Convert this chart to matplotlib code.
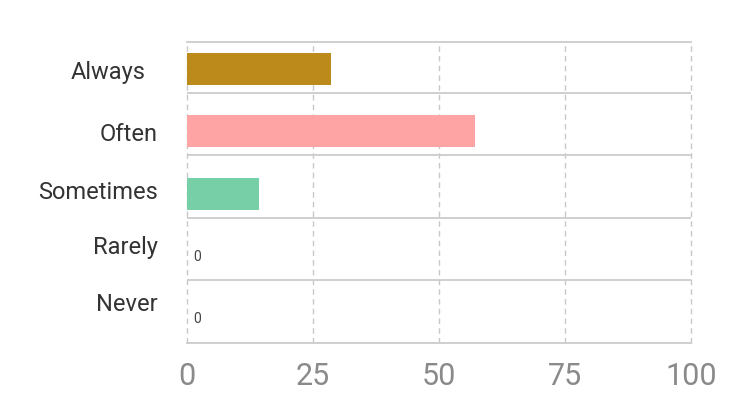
import matplotlib.pyplot as plt
import numpy as np

# data
categories = ["Always", "Often", "Sometimes", "Rarely", "Never"]
values = [28.57, 57.14, 14.29, 0, 0]
colors = ["#BC891B", "#FFA4A4", "#76CFA6", "#9AB8E0", "#C9A0DC"]
x_ticks = [0, 25, 50, 75, 100]

plt.rcParams['font.family'] = ['Roboto', 'DejaVu Sans']

fig = plt.figure(figsize=(7.56, 4.11), dpi=100)
ax = fig.add_axes([0.2474, 0.1655, 0.6667, 0.7324])

pos = np.arange(len(categories))
ax.barh(pos, values, height=0.51, color=colors, linewidth=0, zorder=3)

# zero labels for empty rows
for p, v in zip(pos, values):
    if v == 0:
        ax.text(1.3, p, "0", ha="left", va="center", fontsize=10, color="#444444")

ax.set_xlim(0, 100)
ax.set_ylim(4.38, -0.43)

# grid: dashed vertical, solid horizontal row separators
for x in x_ticks:
    ax.axvline(x, color="#C8C8C8", lw=1, ls=(0, (4, 3)), zorder=1, clip_on=False)
for p in pos[:-1]:
    ax.axhline(p + 0.38, color="#CCCCCC", lw=1.3, zorder=1)

for s in ["top", "bottom"]:
    ax.spines[s].set_color("#CCCCCC")
    ax.spines[s].set_linewidth(1.3)
for s in ["left", "right"]:
    ax.spines[s].set_visible(False)

ax.set_xticks(x_ticks)
ax.set_xticklabels([str(t) for t in x_ticks], fontsize=22, color="#8A8A8A")
ax.tick_params(axis="x", length=0, pad=14)

# category labels (hand placed like the original)
ax.set_yticks([])
label_y = [0.05, 1.05, 1.97, 2.86, 3.77]
label_x = [-0.083, -0.058, -0.058, -0.058, -0.058]
trans = ax.get_yaxis_transform()
for name, y, x in zip(categories, label_y, label_x):
    ax.text(x, y, name, transform=trans, ha="right", va="center",
            fontsize=17, color="#333333")

fig.savefig("out.png", dpi=100)
